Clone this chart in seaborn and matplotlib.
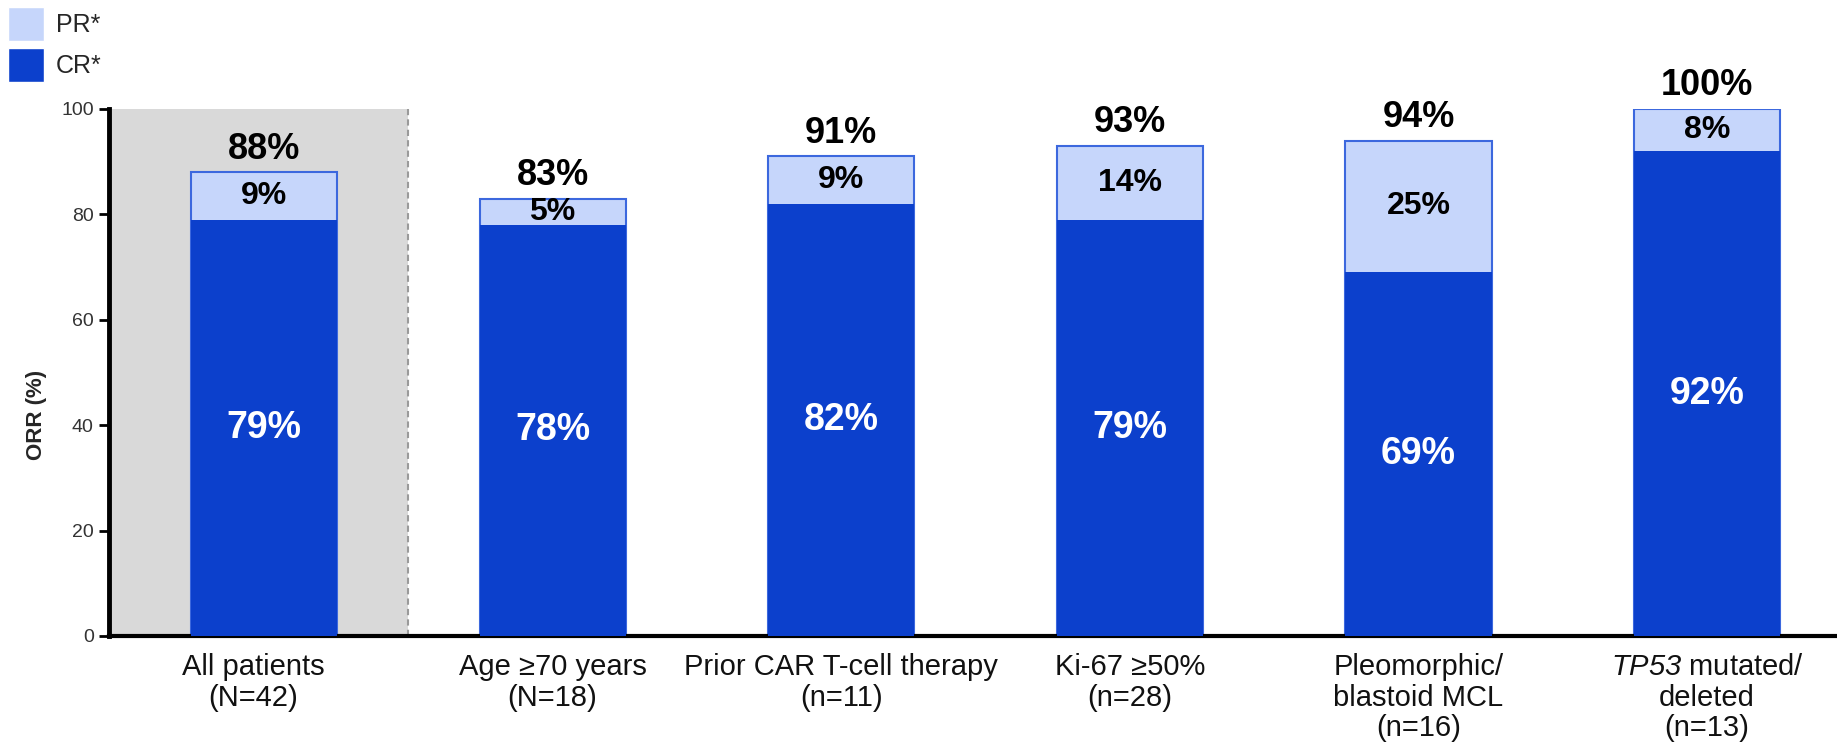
import matplotlib
matplotlib.use("Agg")
import matplotlib.pyplot as plt
from matplotlib.patches import Patch
from matplotlib.transforms import ScaledTranslation
import seaborn as sns
import pandas as pd

# values
groups = ["All patients\n(N=42)", "Age \u226570 years\n(N=18)", "Prior CAR T-cell therapy\n(n=11)",
          "Ki-67 \u226550%\n(n=28)", "Pleomorphic/\nblastoid MCL\n(n=16)", "$TP53$ mutated/\ndeleted\n(n=13)"]
cr = [79, 78, 82, 79, 69, 92]
pr = [9, 5, 9, 14, 25, 8]
orr = [88, 83, 91, 93, 94, 100]

CR_COL = "#0C40CC"
PR_COL = "#C6D6FB"
EDGE = "#3C68DE"

sns.set_style("white")
plt.rcParams['font.family'] = ['Liberation Sans', 'DejaVu Sans']
# only the TP53 label uses mathtext: make letters and digits italic
plt.rcParams['mathtext.fontset'] = 'custom'
plt.rcParams['mathtext.rm'] = 'Liberation Sans:italic'
plt.rcParams['mathtext.it'] = 'Liberation Sans:italic'

df = pd.DataFrame({"group": groups, "cr": cr, "pr": pr, "orr": orr})

fig = plt.figure(figsize=(18.37, 7.47), dpi=100)
ax = fig.add_axes([0.0593, 0.1486, 0.9407, 0.7055])

# shaded "all patients" panel
ax.axvspan(-0.6, 0.5, color="#D9D9D9", zorder=0, lw=0)
ax.vlines(0.5, 0, 100, colors="#9A9A9A", linestyles=(0, (3, 2)), lw=1.5, zorder=1)

sns.barplot(data=df, x="group", y="orr", color=PR_COL, saturation=1, width=0.506,
            edgecolor=EDGE, linewidth=1.5, ax=ax, zorder=2)
sns.barplot(data=df, x="group", y="cr", color=CR_COL, saturation=1, width=0.506,
            edgecolor=CR_COL, linewidth=0, ax=ax, zorder=3)

for i, row in df.iterrows():
    ax.annotate(f"{row['orr']}%", (i, row['orr']), xytext=(0, 4), textcoords="offset points",
                ha="center", va="bottom", fontsize=26, fontweight="bold", color="black",
                annotation_clip=False)
    ax.text(i, row['cr'] + row['pr'] / 2, f"{row['pr']}%", ha="center", va="center",
            fontsize=23, fontweight="bold", color="black", zorder=5)
    ax.text(i, row['cr'] / 2, f"{row['cr']}%", ha="center", va="center",
            fontsize=27, fontweight="bold", color="white", zorder=5)

ax.set_xlim(-0.537, 5.45)
ax.set_ylim(0, 100)
ax.set_yticks([0, 20, 40, 60, 80, 100])
ax.set_xlabel("")
ax.set_ylabel("ORR (%)", fontsize=16, fontweight="bold")
ax.yaxis.set_label_coords(-0.036, 0.42)

sns.despine(ax=ax)
ax.spines['left'].set_linewidth(3.5)
ax.spines['bottom'].set_linewidth(3)
ax.spines['left'].set_color("black")
ax.spines['bottom'].set_color("black")
ax.tick_params(axis="y", direction="out", length=7, width=2, color="black",
               labelsize=14, labelcolor="#333333", left=True, pad=4)
ax.tick_params(axis="x", length=0, labelsize=21, labelcolor="#111111", pad=12)
for lbl in ax.get_xticklabels():
    lbl.set_linespacing(1.13)
first = ax.get_xticklabels()[0]
first.set_transform(first.get_transform() + ScaledTranslation(-0.11, 0, fig.dpi_scale_trans))

fig.legend(handles=[Patch(facecolor=PR_COL, label="PR*"), Patch(facecolor=CR_COL, label="CR*")],
           loc="upper left", bbox_to_anchor=(0.0, 1.0), frameon=False, fontsize=18,
           handlelength=1.45, handleheight=1.67, handletextpad=0.5, labelspacing=0.3,
           borderpad=0.1, borderaxespad=0.2)

fig.savefig("out.png", dpi=100)
